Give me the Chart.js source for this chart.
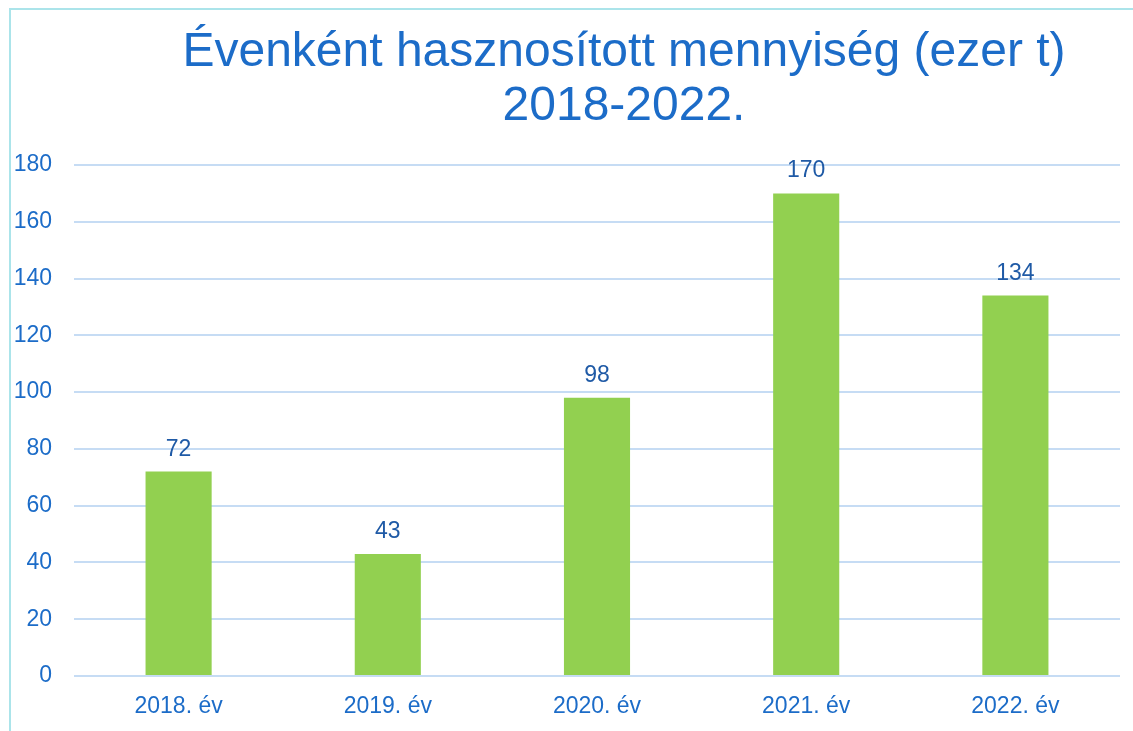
<!DOCTYPE html>
<html lang="hu">
<head>
<meta charset="utf-8">
<title>Évenként hasznosított mennyiség</title>
<script src="https://cdn.jsdelivr.net/npm/chart.js@4.4.1/dist/chart.umd.min.js"></script>
<style>
  html, body {
    margin: 0;
    padding: 0;
    background: #ffffff;
  }

  #wrap {
    position: relative;
    width: 1133px;
    height: 731px;
    overflow: hidden;
  }

  #frame {
    position: absolute;
    left: 9px;
    top: 8px;
    right: -10px;
    bottom: -10px;
    border-top: 2px solid #abe4ea;
    border-left: 2px solid #abe4ea;
  }

  #title {
    position: absolute;
    left: 0;
    top: 23px;
    width: 1133px;
    box-sizing: border-box;
    padding-left: 115px;
    text-align: center;
    font-family: "Liberation Sans", Arial, sans-serif;
    font-size: 48px;
    line-height: 54px;
    color: #1c6cc8;
  }

  #chartBox {
    position: absolute;
    left: 0;
    top: 0;
    width: 1133px;
    height: 731px;
  }
</style>
</head>
<body>
<div id="wrap">
  <div id="frame"></div>
  <div id="chartBox"><canvas id="mainChart"></canvas></div>
  <div id="title">Évenként hasznosított mennyiség (ezer t)<br>2018-2022.</div>
</div>

<script>
// ======================================
// Adatok
// ======================================

const years = ["2018. év", "2019. év", "2020. év", "2021. év", "2022. év"];
const amounts = [72, 43, 98, 170, 134];

const yMin = 0;
const yMax = 180;
const yStep = 20;


// ======================================
// Színek, betű
// ======================================

const barColor = "#92d050";
const tickColor = "#1c6cc8";
const valueColor = "#1f5aa6";
const gridColor = "#c6dcf4";
const fontFamily = "'Liberation Sans', Arial, sans-serif";


// ======================================
// Értékcímkék az oszlopok fölé
// ======================================

const valueLabels = {
  id: "valueLabels",
  afterDatasetsDraw(chart) {
    const ctx = chart.ctx;
    const meta = chart.getDatasetMeta(0);

    ctx.save();
    ctx.font = "23px " + fontFamily;
    ctx.fillStyle = valueColor;
    ctx.textAlign = "center";
    ctx.textBaseline = "alphabetic";

    meta.data.forEach((bar, index) => {
      ctx.fillText(String(amounts[index]), bar.x, bar.y - 16);
    });

    ctx.restore();
  }
};


// ======================================
// Diagram
// ======================================

new Chart(document.getElementById("mainChart"), {
  type: "bar",
  data: {
    labels: years,
    datasets: [
      {
        data: amounts,
        backgroundColor: barColor,
        borderWidth: 0,
        barPercentage: 0.316,
        categoryPercentage: 1
      }
    ]
  },
  options: {
    responsive: true,
    maintainAspectRatio: false,
    animation: false,
    layout: {
      padding: {
        top: 165,
        left: 14,
        right: 13,
        bottom: 10
      }
    },
    plugins: {
      legend: {
        display: false
      },
      tooltip: {
        enabled: false
      }
    },
    scales: {
      x: {
        afterFit: (scale) => {
          scale.height = 45;
        },
        grid: {
          display: false
        },
        border: {
          display: false
        },
        ticks: {
          color: tickColor,
          padding: 9,
          maxRotation: 0,
          font: {
            family: fontFamily,
            size: 23
          }
        }
      },
      y: {
        min: yMin,
        max: yMax,
        afterFit: (scale) => {
          scale.width = 60;
        },
        grid: {
          color: gridColor,
          lineWidth: 2,
          drawTicks: false
        },
        border: {
          display: false
        },
        ticks: {
          stepSize: yStep,
          color: tickColor,
          padding: 22,
          font: {
            family: fontFamily,
            size: 23
          }
        }
      }
    }
  },
  plugins: [valueLabels]
});
</script>
</body>
</html>
